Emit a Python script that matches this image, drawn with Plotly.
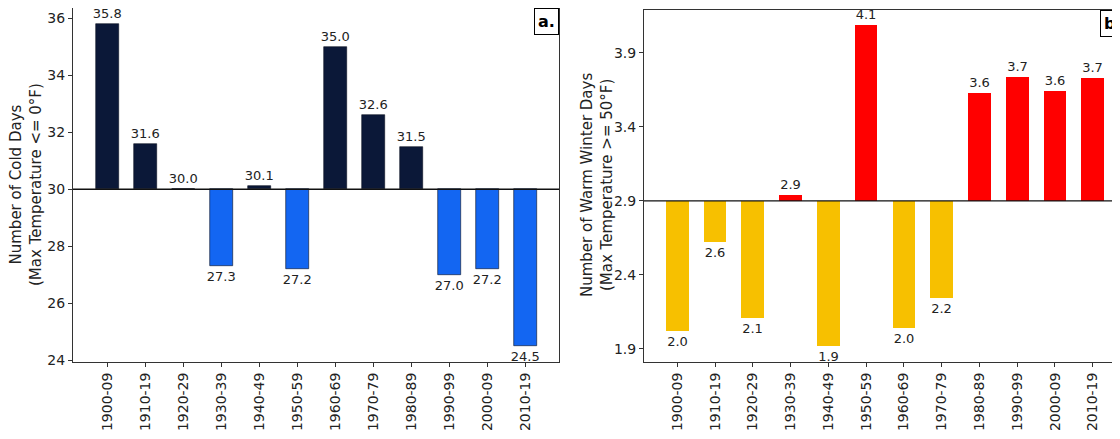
import plotly.graph_objects as go

decades = ["1900-09", "1910-19", "1920-29", "1930-39", "1940-49", "1950-59",
           "1960-69", "1970-79", "1980-89", "1990-99", "2000-09", "2010-19"]
cold_days = [35.8, 31.6, 30.02, 27.3, 30.1, 27.2, 35.0, 32.6, 31.5, 27.0, 27.2, 24.5]
cold_base = 30.0
warm_days = [2.02, 2.62, 2.11, 2.94, 1.92, 4.09, 2.04, 2.24, 3.63, 3.74, 3.64, 3.73]
warm_base = 2.9

W, H = 1120, 439
OFF = 8  # default page body margin in the browser
FONT = "DejaVu Sans"

def colors(vals, base, up, down):
    return [up if v >= base else down for v in vals]

x_idx = list(range(len(decades)))

fig = go.Figure()
fig.add_trace(go.Bar(
    x=x_idx, y=[v - cold_base for v in cold_days], base=cold_base,
    width=0.6,
    marker=dict(color=colors(cold_days, cold_base, "#0b1838", "#1366f2"),
                line=dict(color="#0a0f20", width=0.6)),
    text=[f"{v:.1f}" for v in cold_days], textposition="outside",
    constraintext="none", cliponaxis=False,
    textfont=dict(family=FONT, size=13, color="#222"),
    xaxis="x", yaxis="y", showlegend=False))
fig.add_trace(go.Bar(
    x=x_idx, y=[v - warm_base for v in warm_days], base=warm_base,
    width=0.6,
    marker=dict(color=colors(warm_days, warm_base, "#ff0000", "#f7c000"),
                line=dict(width=0)),
    text=[f"{v:.1f}" for v in warm_days], textposition="outside",
    constraintext="none", cliponaxis=False,
    textfont=dict(family=FONT, size=13, color="#222"),
    xaxis="x2", yaxis="y2", showlegend=False))

def px_x(p):
    return (p - OFF) / W

def px_y(p):
    return 1 - (p - OFF) / H

axis_common = dict(showline=True, linecolor="#333", linewidth=1, mirror=True,
                   ticks="outside", ticklen=4, tickcolor="#333", showgrid=False,
                   zeroline=False, automargin=False,
                   tickfont=dict(family=FONT, size=14, color="#222"))

fig.update_layout(
    width=W, height=H, margin=dict(l=0, r=0, t=0, b=0, autoexpand=False),
    paper_bgcolor="white", plot_bgcolor="white", bargap=0,
    xaxis=dict(domain=[px_x(73), px_x(559)], range=[-0.9, 11.88],
               tickvals=x_idx, ticktext=decades, tickangle=-90, anchor="y", **axis_common),
    yaxis=dict(domain=[px_y(362), px_y(8)], range=[23.93, 36.37],
               tickvals=[24, 26, 28, 30, 32, 34, 36], anchor="x", **axis_common),
    xaxis2=dict(domain=[px_x(644), px_x(1126)], range=[-0.88, 11.88],
                tickvals=x_idx, ticktext=decades, tickangle=-90, anchor="y2", **axis_common),
    yaxis2=dict(domain=[px_y(362), px_y(10)], range=[1.81, 4.19],
                tickvals=[1.9, 2.4, 2.9, 3.4, 3.9], ticktext=["1.9", "2.4", "2.9", "3.4", "3.9"],
                anchor="x2", **axis_common),
    shapes=[
        dict(type="line", xref="x domain", yref="y", x0=0, x1=1, y0=cold_base, y1=cold_base,
             line=dict(color="#111", width=1.3)),
        dict(type="line", xref="x2 domain", yref="y2", x0=0, x1=1, y0=warm_base, y1=warm_base,
             line=dict(color="#111", width=1.3)),
    ],
    annotations=[
        dict(text="Number of Cold Days<br>(Max Temperature <= 0°F)", textangle=-90,
             xref="paper", yref="paper", x=px_x(26), y=px_y(185), showarrow=False,
             font=dict(family=FONT, size=15, color="#222"), xanchor="center", yanchor="middle"),
        dict(text="Number of Warm Winter Days<br>(Max Temperature >= 50°F)", textangle=-90,
             xref="paper", yref="paper", x=px_x(597), y=px_y(185), showarrow=False,
             font=dict(family=FONT, size=15, color="#222"), xanchor="center", yanchor="middle"),
        dict(text="<b>a.</b>", xref="x domain", yref="y domain", x=1, y=1,
             xanchor="right", yanchor="top", showarrow=False,
             font=dict(family=FONT, size=16, color="#000"),
             bordercolor="#000", borderwidth=1, borderpad=3, bgcolor="white"),
        dict(text="<b>b.</b>", xref="x2 domain", yref="y2 domain", x=1, y=1,
             xanchor="right", yanchor="top", showarrow=False,
             font=dict(family=FONT, size=16, color="#000"),
             bordercolor="#000", borderwidth=1, borderpad=3, bgcolor="white"),
    ],
)

fig.write_html("out.html")
